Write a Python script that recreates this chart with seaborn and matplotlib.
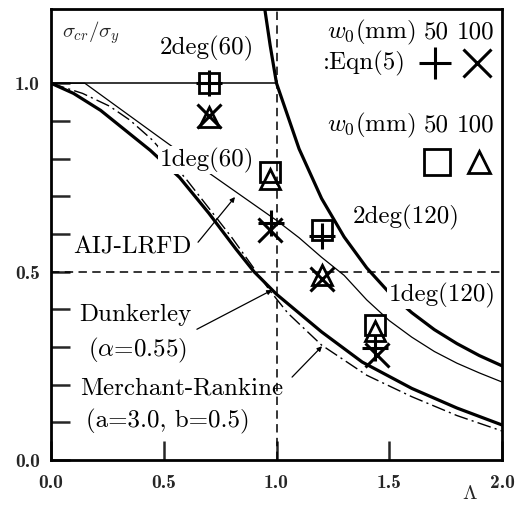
import matplotlib
matplotlib.use("Agg")
import matplotlib.pyplot as plt
import pandas as pd
import seaborn as sns

# Elastic (Euler) buckling curve, cut off at sigma_cr/sigma_y = 1
lam_euler = [0.948, 0.972, 1.0, 1.1, 1.2, 1.3, 1.4, 1.5, 1.6, 1.7, 1.8, 1.9, 2.0]
sig_euler = [1.197, 1.10, 1.0, 0.826, 0.694, 0.592, 0.510, 0.444, 0.391, 0.346, 0.309, 0.277, 0.250]

# AIJ-LRFD column strength curve
lam_aij = [0.0, 0.15, 0.5, 0.7, 1.0, 1.1, 1.2, 1.3, 1.4, 1.5, 1.6, 1.7, 1.8, 1.9, 2.0]
sig_aij = [1.0, 1.0, 0.848, 0.762, 0.636, 0.59, 0.538, 0.49, 0.425, 0.370, 0.326, 0.288, 0.257, 0.231, 0.207]

# Dunkerley (alpha = 0.55)
lam_dunk = [0.0, 0.1, 0.22, 0.44, 0.57, 0.7, 0.82, 0.9, 1.0, 1.1, 1.2, 1.38, 1.6, 1.8, 2.0]
sig_dunk = [1.0, 0.973, 0.928, 0.822, 0.75, 0.655, 0.56, 0.50, 0.44, 0.39, 0.34, 0.26, 0.19, 0.138, 0.093]

# Merchant-Rankine (a = 3.0, b = 0.5)
lam_mr = [0.0, 0.14, 0.26, 0.35, 0.45, 0.6, 0.8, 0.97, 1.05, 1.2, 1.4, 1.6, 1.8, 2.0]
sig_mr = [1.0, 0.973, 0.939, 0.902, 0.849, 0.745, 0.592, 0.45, 0.39, 0.305, 0.225, 0.168, 0.118, 0.077]

# Test results (square: w0=50 mm, triangle: w0=100 mm)
test_lam = [0.70, 0.97, 1.20, 1.435]
test_sq50 = [1.0, 0.765, 0.61, 0.357]
test_tri100 = [0.91, 0.745, 0.49, 0.343]

# Eqn(5) predictions (+: w0=50 mm, x: w0=100 mm)
eqn_lam_50 = [0.70, 0.975, 1.20, 1.435]
eqn_plus50 = [1.0, 0.63, 0.595, 0.298]
eqn_lam_100 = [0.70, 0.97, 1.20, 1.445]
eqn_x100 = [0.912, 0.61, 0.48, 0.28]

group_labels = ["2deg(60)", "1deg(60)", "2deg(120)", "1deg(120)"]

sns.set_style("white")
plt.rcParams["font.family"] = ["cmr10", "DejaVu Serif"]
plt.rcParams["mathtext.fontset"] = "cm"
plt.rcParams["axes.unicode_minus"] = False

fig = plt.figure(figsize=(5.19, 5.12), dpi=100)
ax = fig.add_axes([51 / 519, 52 / 512, 451 / 519, 451 / 512])

ax.set_xlim(0, 2.0)
ax.set_ylim(0, 1.197)

# reference lines
ax.axvline(1.0, color="k", lw=1.1, ls=(0, (5.5, 3.5)), zorder=1)
ax.axhline(0.5, color="k", lw=1.1, ls=(0, (5.5, 3.5)), zorder=1)
sns.lineplot(x=[0.0, 1.0], y=[1.0, 1.0], color="k", lw=1.1, ax=ax,
             sort=False, estimator=None, zorder=2)

curves = pd.concat([
    pd.DataFrame({"lam": lam_euler, "sig": sig_euler, "curve": "Euler"}),
    pd.DataFrame({"lam": lam_aij, "sig": sig_aij, "curve": "AIJ-LRFD"}),
    pd.DataFrame({"lam": lam_dunk, "sig": sig_dunk, "curve": "Dunkerley"}),
    pd.DataFrame({"lam": lam_mr, "sig": sig_mr, "curve": "Merchant-Rankine"}),
])
styles = {
    "Euler": dict(lw=2.3, ls="-"),
    "AIJ-LRFD": dict(lw=0.9, ls="-"),
    "Dunkerley": dict(lw=2.3, ls="-"),
    "Merchant-Rankine": dict(lw=1.0, ls=(0, (10, 3, 1.5, 3))),
}
for name, sub in curves.groupby("curve", sort=False):
    sns.lineplot(data=sub, x="lam", y="sig", color="k", ax=ax, sort=False,
                 estimator=None, zorder=2, **styles[name])

# test points and Eqn(5) predictions
mk = dict(ls="none", color="k", sort=False, estimator=None, zorder=6)
sns.lineplot(x=test_lam, y=test_sq50, marker="s", ms=14, mew=2.0,
             mfc="none", mec="k", ax=ax, **mk)
sns.lineplot(x=test_lam, y=test_tri100, marker="^", ms=14, mew=2.0,
             mfc="none", mec="k", ax=ax, **mk)
sns.lineplot(x=eqn_lam_50, y=eqn_plus50, marker="+", ms=19, mew=2.2,
             mec="k", ax=ax, **mk)
sns.lineplot(x=eqn_lam_100, y=eqn_x100, marker="x", ms=17, mew=2.2,
             mec="k", ax=ax, **mk)

# key in the upper right corner
sns.lineplot(x=[1.703], y=[1.053], marker="+", ms=23, mew=2.2, mec="k", ax=ax, **mk)
sns.lineplot(x=[1.889], y=[1.053], marker="x", ms=20, mew=2.2, mec="k", ax=ax, **mk)
sns.lineplot(x=[1.712], y=[0.79], marker="s", ms=19, mew=2.0, mfc="none",
             mec="k", ax=ax, **mk)
sns.lineplot(x=[1.898], y=[0.79], marker="^", ms=16, mew=2.0, mfc="none",
             mec="k", ax=ax, **mk)

fs = 18
txt = dict(fontsize=fs, ha="center", va="center", color="k")
white = dict(fc="white", ec="none", pad=1.0)
ax.text(1.421, 1.135, r"$w_0$(mm)", **txt)
ax.text(1.707, 1.135, "50", **txt)
ax.text(1.883, 1.135, "100", **txt)
ax.text(1.39, 1.053, ":Eqn(5)", **txt)
ax.text(1.421, 0.889, r"$w_0$(mm)", **txt)
ax.text(1.707, 0.889, "50", **txt)
ax.text(1.883, 0.889, "100", **txt)

ax.text(0.69, 1.093, group_labels[0], zorder=4, bbox=white, **txt)
ax.text(0.69, 0.796, group_labels[1], zorder=4, bbox=white, **txt)
ax.text(1.574, 0.645, group_labels[2], zorder=4, **txt)
ax.text(1.734, 0.438, group_labels[3], zorder=4, bbox=white, **txt)

ax.text(0.36, 0.565, "AIJ-LRFD", zorder=4, **txt)
ax.text(0.372, 0.385, "Dunkerley", zorder=4, **txt)
ax.text(0.381, 0.292, r"($\alpha$=0.55)", zorder=4, **txt)
ax.text(0.58, 0.191, "Merchant-Rankine", zorder=4, **txt)
ax.text(0.519, 0.101, "(a=3.0, b=0.5)", zorder=4, **txt)

arrow = dict(arrowstyle="-|>", lw=0.9, color="k", mutation_scale=7,
             shrinkA=0, shrinkB=0)
ax.annotate("", xy=(0.816, 0.698), xytext=(0.652, 0.578), arrowprops=arrow)
ax.annotate("", xy=(0.98, 0.451), xytext=(0.647, 0.347), arrowprops=arrow)
ax.annotate("", xy=(1.202, 0.302), xytext=(1.069, 0.22), arrowprops=arrow)

ax.text(0.177, 1.133, r"$\sigma_{cr}/\sigma_y$", fontsize=15, ha="center",
        va="center")

# axes, ticks and labels
ax.set_xlabel("")
ax.set_ylabel("")
ax.set_xticks([0.0, 0.5, 1.0, 1.5, 2.0])
ax.set_xticklabels(["0.0", "0.5", "1.0", "1.5", "2.0"])
ax.set_yticks([0.0, 0.5, 1.0])
ax.set_yticklabels(["0.0", "0.5", "1.0"])
ax.set_yticks([0.1, 0.2, 0.3, 0.4, 0.6, 0.7, 0.8, 0.9], minor=True)
for lab in ax.get_xticklabels() + ax.get_yticklabels():
    lab.set_fontfamily("cmb10")
    lab.set_fontsize(14)
ax.tick_params(which="both", direction="in", length=14, width=1.8,
               top=False, right=False, left=True, bottom=True)
ax.tick_params(axis="x", pad=10)
ax.tick_params(axis="y", pad=8)
for sp in ax.spines.values():
    sp.set_linewidth(2.0)
    sp.set_color("k")
    sp.set_visible(True)

fig.text(470 / 519, 1 - 494 / 512, r"$\mathbf{\Lambda}$", fontsize=15,
         ha="center", va="center")

fig.savefig("out.png", dpi=100)
